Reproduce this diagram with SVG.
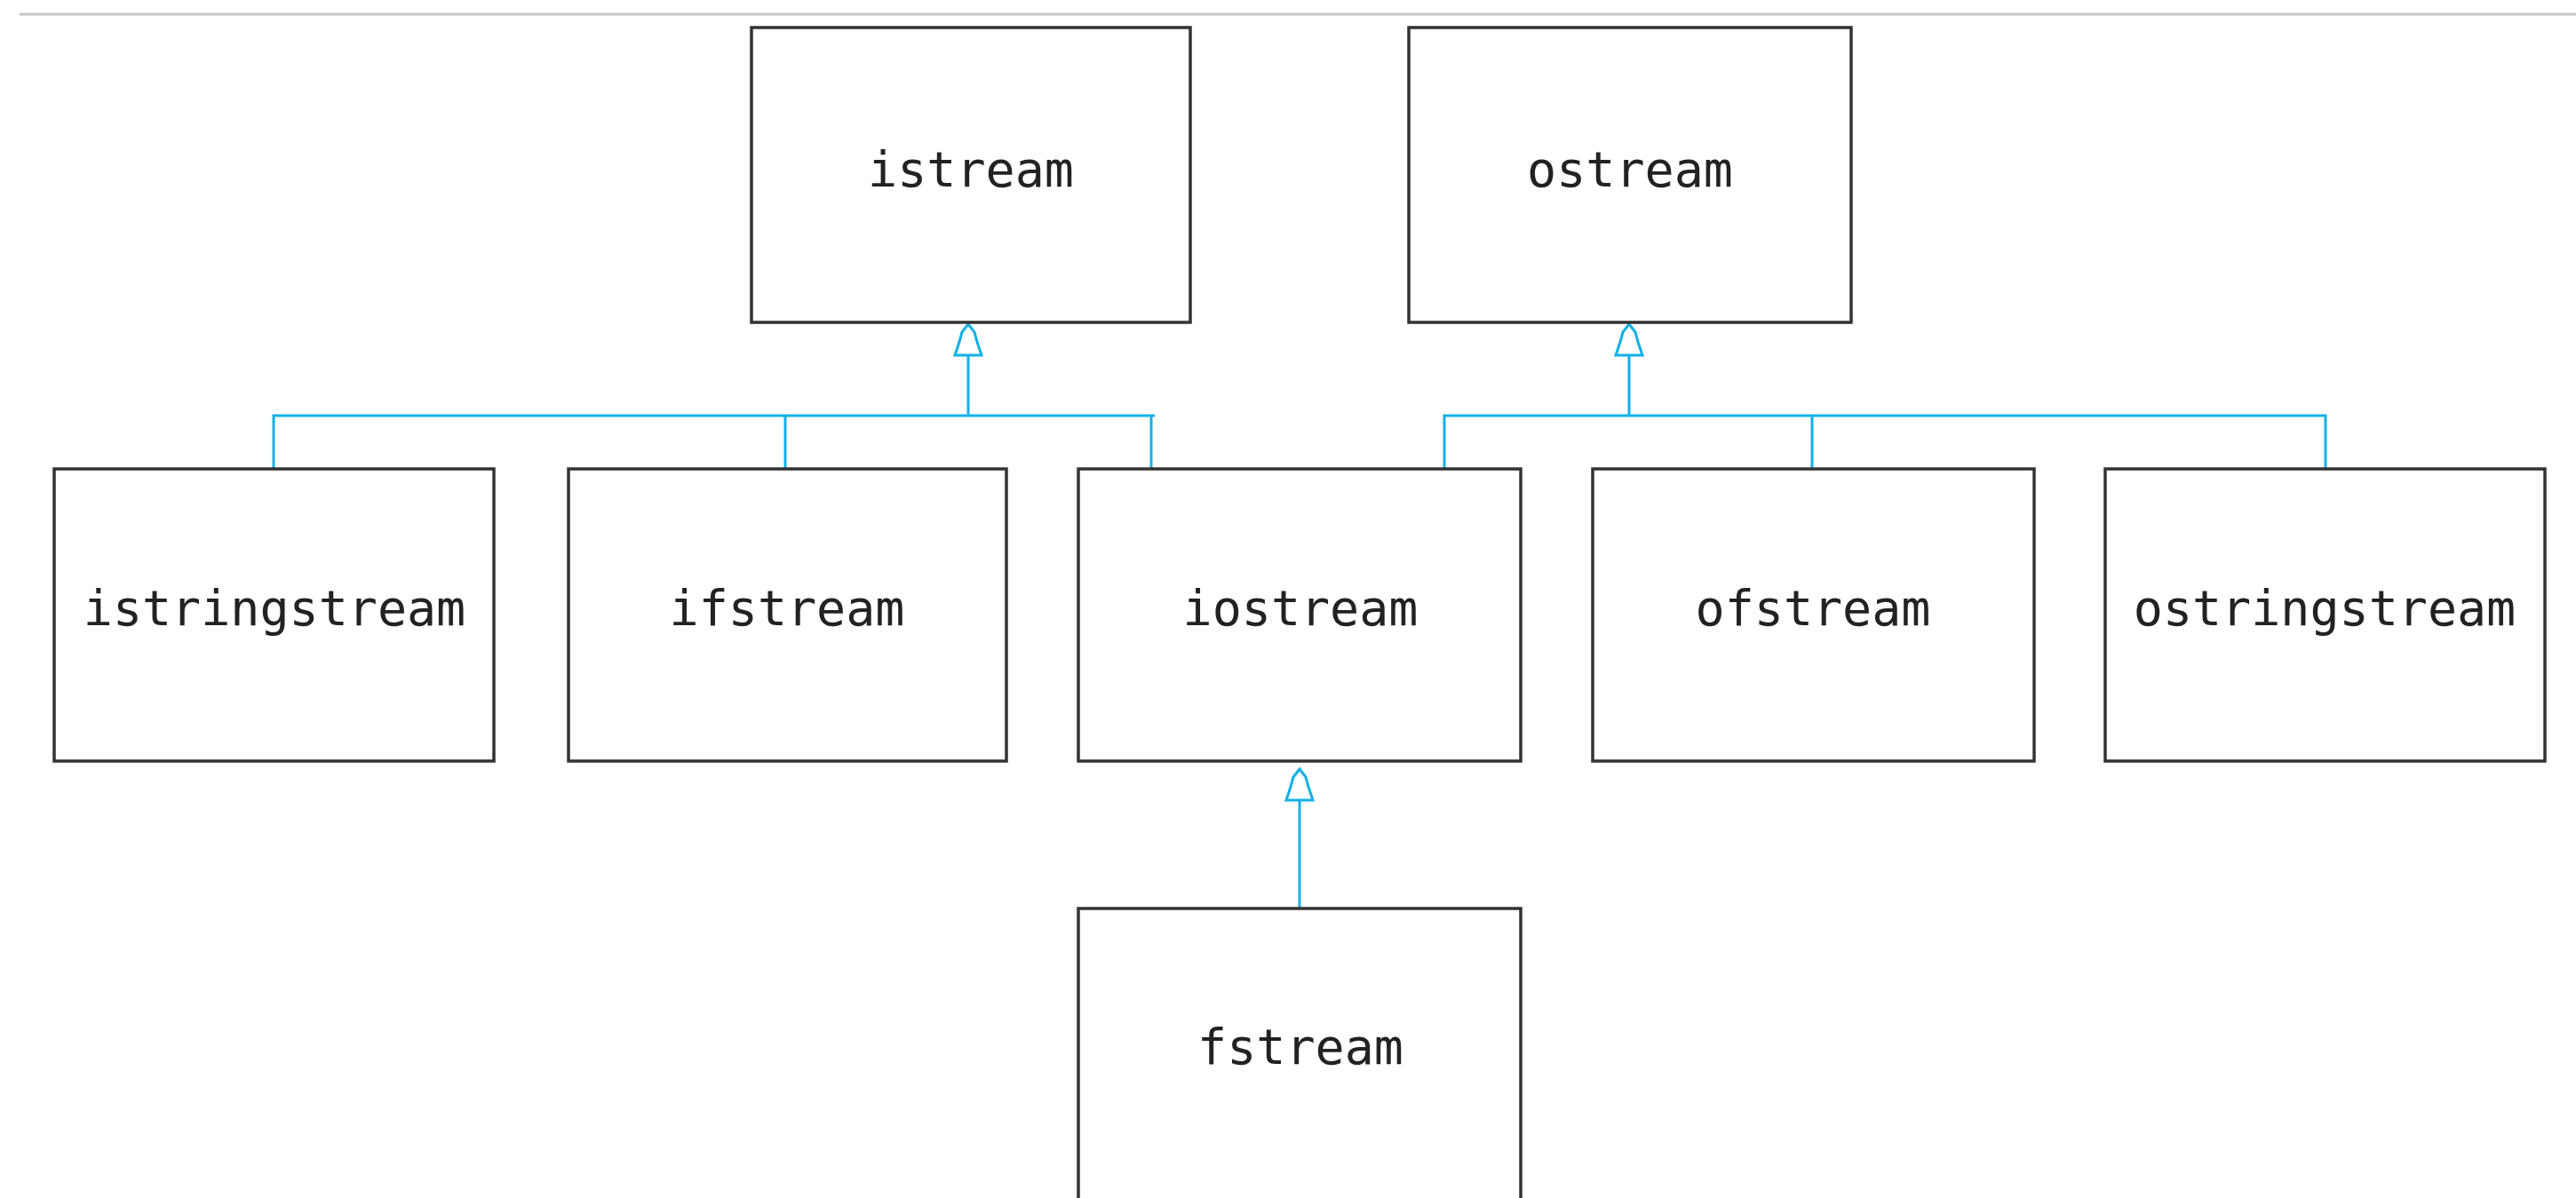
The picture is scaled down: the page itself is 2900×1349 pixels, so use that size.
<svg xmlns="http://www.w3.org/2000/svg" width="2900" height="1349" viewBox="0 0 2900 1349">
  <style>
    .box { fill: #ffffff; stroke: #333333; stroke-width: 3.5; }
    .lbl { font-family: "DejaVu Sans Mono", "Liberation Mono", monospace; font-size: 55px; fill: #222222; text-anchor: middle; }
    .wire { fill: none; stroke: #12b0e8; stroke-width: 3; }
    .head { fill: #ffffff; stroke: #12b0e8; stroke-width: 3; stroke-linejoin: miter; }
  </style>
  <defs>
    <!-- hollow inheritance triangle, tip at origin, pointing up -->
    <path id="tri" d="M0,0 L-7,9 L-10,20 L-15,35 L15,35 L10,20 L7,9 Z"/>
  </defs>

  <rect width="2900" height="1349" fill="#ffffff"/>
  <!-- window rule -->
  <line x1="22" y1="16" x2="2900" y2="16" stroke="#c6c6c6" stroke-width="3"/>

  <g id="connectors">
    <!-- istream family -->
    <path class="wire" d="M1090,400 V468 M308,528 V468 H1300 M884,468 V528 M1296,468 V528"/>
    <use href="#tri" class="head" x="1090" y="365"/>
    <!-- ostream family -->
    <path class="wire" d="M1834,400 V468 M1626,528 V468 H2618 V528 M2040,468 V528"/>
    <use href="#tri" class="head" x="1834" y="365"/>
    <!-- fstream -> iostream -->
    <path class="wire" d="M1463,902 V1023"/>
    <use href="#tri" class="head" x="1463" y="866"/>
  </g>

  <g id="istream">
    <rect class="box" x="846" y="31" width="494" height="332"/>
    <text class="lbl" x="1093" y="210">istream</text>
  </g>
  <g id="ostream">
    <rect class="box" x="1586" y="31" width="498" height="332"/>
    <text class="lbl" x="1835" y="210">ostream</text>
  </g>
  <g id="istringstream">
    <rect class="box" x="61" y="528" width="495" height="329"/>
    <text class="lbl" x="309" y="704">istringstream</text>
  </g>
  <g id="ifstream">
    <rect class="box" x="640" y="528" width="493" height="329"/>
    <text class="lbl" x="886" y="704">ifstream</text>
  </g>
  <g id="iostream">
    <rect class="box" x="1214" y="528" width="498" height="329"/>
    <text class="lbl" x="1464" y="704">iostream</text>
  </g>
  <g id="ofstream">
    <rect class="box" x="1793" y="528" width="497" height="329"/>
    <text class="lbl" x="2041" y="704">ofstream</text>
  </g>
  <g id="ostringstream">
    <rect class="box" x="2370" y="528" width="495" height="329"/>
    <text class="lbl" x="2617" y="704">ostringstream</text>
  </g>
  <g id="fstream">
    <rect class="box" x="1214" y="1023" width="498" height="340"/>
    <text class="lbl" x="1464" y="1198">fstream</text>
  </g>
</svg>
